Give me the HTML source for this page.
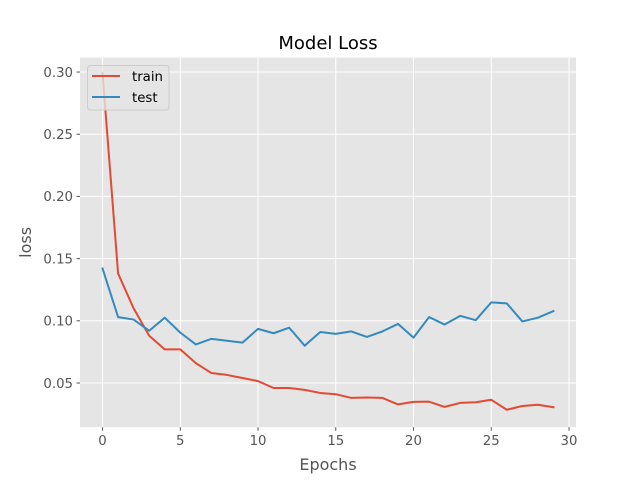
<!DOCTYPE html>
<html><head><meta charset="utf-8"><style>
html,body{margin:0;padding:0;background:#fff;}
svg{display:block;font-family:"DejaVu Sans","Liberation Sans",sans-serif;}
</style></head><body>
<svg id="chart" width="640" height="480" xmlns="http://www.w3.org/2000/svg"></svg>
<script>
const epochs = [0,1,2,3,4,5,6,7,8,9,10,11,12,13,14,15,16,17,18,19,20,21,22,23,24,25,26,27,28,29];
const trainLoss = [0.299,0.138,0.110,0.088,0.077,0.077,0.066,0.058,0.0565,0.054,0.0515,0.046,0.046,0.0445,0.042,0.041,0.038,0.0383,0.038,0.0328,0.0348,0.035,0.0308,0.034,0.0345,0.0365,0.0285,0.0315,0.0325,0.0305];
const testLoss = [0.142,0.103,0.101,0.092,0.1025,0.0905,0.081,0.0855,0.084,0.0825,0.0935,0.090,0.0945,0.080,0.091,0.0895,0.0915,0.087,0.0915,0.0975,0.0865,0.103,0.097,0.104,0.1005,0.1148,0.114,0.0995,0.1025,0.1078];
const xTicks = [0,5,10,15,20,25,30];
const yTicks = [0.05,0.10,0.15,0.20,0.25,0.30];

const L=80,R=576,T=57.6,B=427.2;
const xMin=-1.45,xMax=30.45,yMin=0.01447,yMax=0.3116;
const xs=v=>L+(v-xMin)/(xMax-xMin)*(R-L);
const ys=v=>B-(v-yMin)/(yMax-yMin)*(B-T);
const svg=document.getElementById('chart');
const NS='http://www.w3.org/2000/svg';
function mk(tag,attrs,parent){const e=document.createElementNS(NS,tag);for(const k in attrs)e.setAttribute(k,attrs[k]);(parent||svg).appendChild(e);return e;}

const bg=mk('rect',{x:L,y:T,width:R-L,height:B-T,fill:'#E5E5E5'});



xTicks.forEach(t=>{
  const g=mk('line',{x1:xs(t),x2:xs(t),y1:T,y2:B,stroke:'#fff','stroke-width':1});
  
  
  mk('line',{x1:xs(t),x2:xs(t),y1:B,y2:B+3.5,stroke:'#555','stroke-width':1});
  const tx=mk('text',{x:xs(t),y:B+18,'text-anchor':'middle','font-size':'13.3px',fill:'#555'});
  tx.textContent=t;
  
  
});
yTicks.forEach(t=>{
  const g=mk('line',{x1:L,x2:R,y1:ys(t),y2:ys(t),stroke:'#fff','stroke-width':1});
  
  
  mk('line',{x1:L-3.5,x2:L,y1:ys(t),y2:ys(t),stroke:'#555','stroke-width':1});
  const tx=mk('text',{x:L-7,y:ys(t)+4.8,'text-anchor':'end','font-size':'13.3px',fill:'#555'});
  tx.textContent=t.toFixed(2);
  
  
});

function series(vals,color,name){
  const p=mk('polyline',{points:vals.map((v,i)=>xs(epochs[i])+','+ys(v)).join(' '),fill:'none',stroke:color,'stroke-width':2,'stroke-linejoin':'round','stroke-linecap':'square'});
  
  
}
series(trainLoss,'#E24A33','train-line');
series(testLoss,'#348ABD','test-line');

const lg=mk('g',{});


mk('rect',{x:87.5,y:65.5,width:81.5,height:44.5,rx:3,fill:'#E5E5E5','fill-opacity':0.8,stroke:'#CCCCCC','stroke-width':1},lg);
[['train','#E24A33',76],['test','#348ABD',97]].forEach(([n,c,y])=>{
  const e=mk('g',{},lg);
  
  
  mk('line',{x1:92,x2:120,y1:y,y2:y,stroke:c,'stroke-width':2},e);
  const t=mk('text',{x:132,y:y+5,'font-size':'13.3px',fill:'#000'},e);
  t.textContent=n;
});

const title=mk('text',{x:(L+R)/2,y:49,'text-anchor':'middle','font-size':'18px',fill:'#000'});
title.textContent='Model Loss';


const xl=mk('text',{x:(L+R)/2,y:470,'text-anchor':'middle','font-size':'16px',fill:'#555'});
xl.textContent='Epochs';


const yl=mk('text',{x:0,y:0,'text-anchor':'middle','font-size':'16px',fill:'#555',transform:'translate(31,'+((T+B)/2)+') rotate(-90)'});
yl.textContent='loss';


</script>
</body></html>
